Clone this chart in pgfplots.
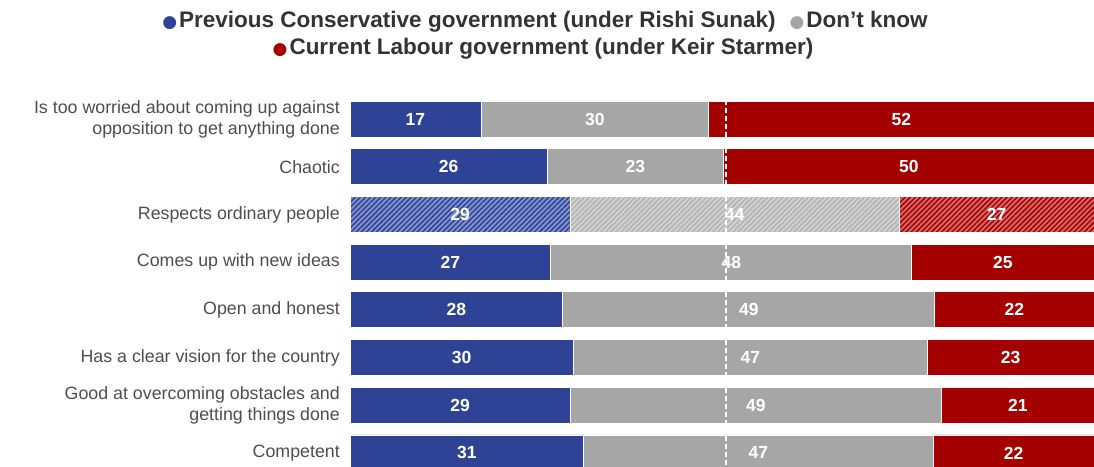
\documentclass[border=0pt]{standalone}
\usepackage{pgfplots}
\pgfplotsset{compat=1.18}
\usetikzlibrary{patterns.meta}
\usepackage{fontspec}
\setmainfont{Liberation Sans}
\newfontfamily\symfont{DejaVu Sans}
\definecolor{cblue}{HTML}{2E4396}
\definecolor{cgray}{HTML}{A6A6A6}
\definecolor{cred}{HTML}{A50000}
\definecolor{hblue}{HTML}{8592CC}
\definecolor{hgray}{HTML}{D2D2D2}
\definecolor{hred}{HTML}{D46A6A}
\definecolor{txt}{HTML}{4D4D4D}
\definecolor{leg}{HTML}{333333}
\begin{document}
\begin{tikzpicture}
\pgfplotsset{
  geom/.style={
    at={(350pt,-95.15pt)}, anchor=north west,
    scale only axis, width=744pt, height=381.6pt,
    xmin=0, xmax=100, ymin=0.5, ymax=8.5, y dir=reverse,
  },
  hatch/.style 2 args={fill=#1, draw=white, line width=0.8pt,
    postaction={pattern={Lines[angle=45,distance=3.6pt,line width=1.5pt]}, pattern color=#2}},
}
\begin{axis}[
  geom,
  xbar stacked, bar width=36pt,
  axis line style={draw=none}, tick style={draw=none},
  xtick=\empty, ytick={1,...,8},
  yticklabels={{Is too worried about coming up against\\opposition to get anything done},
    Chaotic, Respects ordinary people, Comes up with new ideas, Open and honest,
    Has a clear vision for the country,
    {Good at overcoming obstacles and\\getting things done}, Competent},
  yticklabel style={align=right, inner sep=0pt, xshift=-10pt,
    font=\fontsize{17.8}{21}\selectfont, text=txt},
  major tick length=0pt,
]
% blue
\addplot[fill=cblue, draw=white, line width=0.8pt] coordinates {
 (17.6,1) (26.5,2) (0,3) (27.0,4) (28.6,5) (30.0,6) (29.6,7) (31.4,8)};
\addplot[hatch={hblue}{cblue}] coordinates {
 (0,1) (0,2) (29.6,3) (0,4) (0,5) (0,6) (0,7) (0,8)};
% gray
\addplot[fill=cgray, draw=white, line width=0.8pt] coordinates {
 (30.6,1) (23.7,2) (0,3) (48.5,4) (50.0,5) (47.6,6) (49.9,7) (47.0,8)};
\addplot[hatch={hgray}{cgray!85!white}] coordinates {
 (0,1) (0,2) (44.2,3) (0,4) (0,5) (0,6) (0,7) (0,8)};
% red
\addplot[fill=cred, draw=white, line width=0.8pt] coordinates {
 (51.8,1) (49.8,2) (0,3) (24.5,4) (21.4,5) (22.4,6) (20.5,7) (21.6,8)};
\addplot[hatch={hred}{cred}] coordinates {
 (0,1) (0,2) (26.2,3) (0,4) (0,5) (0,6) (0,7) (0,8)};
\end{axis}
\begin{axis}[
  geom, hide axis, clip=false,
  nodes near coords, point meta=explicit symbolic,
  every node near coord/.style={anchor=center, text=white,
    font=\fontsize{17.5}{20}\bfseries\selectfont},
]
\draw[white, line width=1.6pt, dash pattern=on 5pt off 3pt]
  (axis cs:50.5,0.6) -- (axis cs:50.5,8.6);
\addplot[draw=none, mark=none] coordinates {
 (8.8,1) [17] (13.25,2) [26] (14.8,3) [29] (13.5,4) [27]
 (14.3,5) [28] (15.0,6) [30] (14.8,7) [29] (15.7,8) [31]};
\addplot[draw=none, mark=none] coordinates {
 (32.9,1) [30] (38.35,2) [23] (51.7,3) [44] (51.25,4) [48]
 (53.6,5) [49] (53.8,6) [47] (54.55,7) [49] (54.9,8) [47]};
\addplot[draw=none, mark=none] coordinates {
 (74.1,1) [52] (75.1,2) [50] (86.9,3) [27] (87.75,4) [25]
 (89.3,5) [22] (88.8,6) [23] (89.75,7) [21] (89.2,8) [22]};
\end{axis}
\node[anchor=base, font=\fontsize{22.5}{26}\bfseries\selectfont, text=leg, inner sep=0pt]
  at (545pt,-27pt)
  {{\symfont\fontsize{17}{17}\selectfont\color{cblue}●}\hspace{2pt}Previous Conservative government (under Rishi Sunak)\hspace{14pt}{\symfont\fontsize{17}{17}\selectfont\color{cgray}●}\hspace{2pt}Don't know};
\node[anchor=base, font=\fontsize{22.5}{26}\bfseries\selectfont, text=leg, inner sep=0pt]
  at (543pt,-54pt)
  {{\symfont\fontsize{17}{17}\selectfont\color{cred}●}\hspace{2pt}Current Labour government (under Keir Starmer)};
\pgfresetboundingbox
\useasboundingbox (0,0) rectangle (1094pt,-466pt);
\end{tikzpicture}
\end{document}
